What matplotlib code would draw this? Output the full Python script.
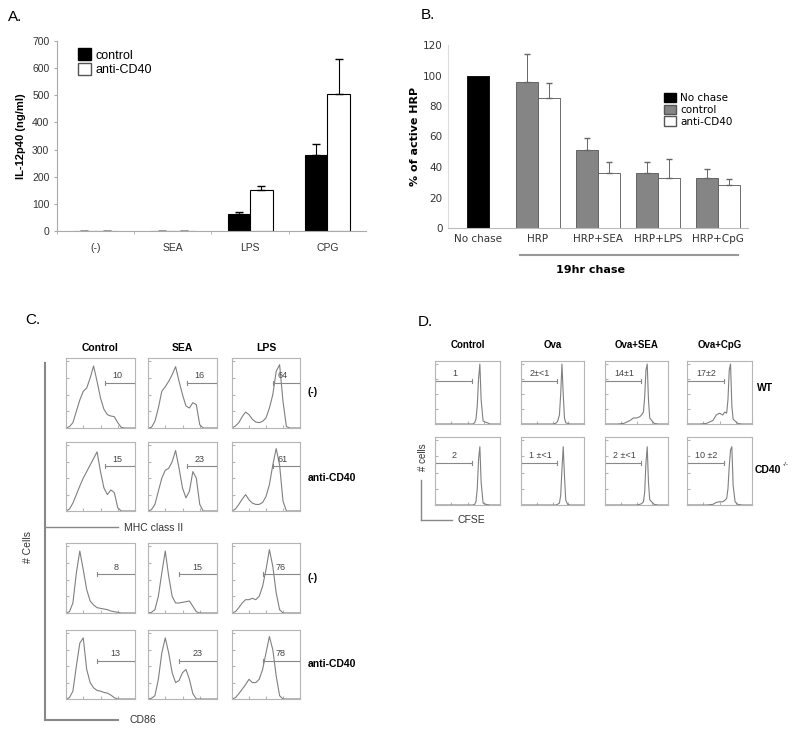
import numpy as np
import matplotlib
matplotlib.use('Agg')
import matplotlib.pyplot as plt
from matplotlib.lines import Line2D
from matplotlib.patches import Patch

plt.rcParams['font.family'] = ['Liberation Sans', 'DejaVu Sans']

W, H = 800, 734

## Panel A data : IL-12p40 ##
a_cats = ['(-)', 'SEA', 'LPS', 'CPG']
a_control = [1, 1, 62, 280]
a_control_err = [0, 0, 8, 42]
a_cd40 = [1, 1, 150, 505]
a_cd40_err = [0, 0, 17, 127]

## Panel B data : % active HRP ##
b_cats = ['No chase', 'HRP', 'HRP+SEA', 'HRP+LPS', 'HRP+CpG']
b_nochase = 100
b_control = [96, 51, 36, 33]
b_control_err = [18, 8, 7, 6]
b_cd40 = [85, 36, 33, 28]
b_cd40_err = [10, 7, 12, 4]

## Panel C data : histograms read at 21 points (0..1) ##
c_cols = ['Control', 'SEA', 'LPS']
c_rows = ['(-)', 'anti-CD40', '(-)', 'anti-CD40']
c_gates = [['10', '16', '64'], ['15', '23', '61'], ['8', '15', '76'], ['13', '23', '78']]
c_hist = [
    [[0, 0.02, 0.08, 0.25, 0.42, 0.55, 0.6, 0.75, 0.93, 0.7, 0.45, 0.28, 0.2, 0.18, 0.17, 0.08, 0.01, 0, 0, 0, 0],
     [0, 0.01, 0.1, 0.3, 0.55, 0.62, 0.7, 0.8, 0.92, 0.7, 0.5, 0.33, 0.3, 0.38, 0.35, 0.05, 0, 0, 0, 0, 0],
     [0, 0.03, 0.08, 0.17, 0.24, 0.2, 0.13, 0.09, 0.08, 0.1, 0.15, 0.3, 0.5, 0.85, 0.95, 0.4, 0.02, 0, 0, 0, 0]],
    [[0, 0.03, 0.12, 0.25, 0.38, 0.5, 0.6, 0.7, 0.8, 0.9, 0.6, 0.35, 0.25, 0.32, 0.28, 0.05, 0, 0, 0, 0, 0],
     [0, 0.02, 0.1, 0.3, 0.5, 0.62, 0.65, 0.75, 0.92, 0.65, 0.35, 0.2, 0.3, 0.6, 0.5, 0.1, 0, 0, 0, 0, 0],
     [0, 0.03, 0.1, 0.18, 0.25, 0.17, 0.12, 0.1, 0.1, 0.13, 0.22, 0.4, 0.7, 0.95, 0.7, 0.15, 0, 0, 0, 0, 0]],
    [[0, 0.02, 0.15, 0.6, 0.93, 0.65, 0.35, 0.18, 0.12, 0.08, 0.07, 0.06, 0.05, 0.03, 0.02, 0.01, 0, 0, 0, 0, 0],
     [0, 0.01, 0.05, 0.25, 0.6, 0.93, 0.55, 0.25, 0.15, 0.15, 0.16, 0.17, 0.18, 0.1, 0.02, 0, 0, 0, 0, 0, 0],
     [0, 0.02, 0.08, 0.15, 0.2, 0.2, 0.22, 0.2, 0.25, 0.4, 0.65, 0.95, 0.7, 0.3, 0.05, 0, 0, 0, 0, 0, 0]],
    [[0, 0.02, 0.12, 0.5, 0.85, 0.93, 0.45, 0.25, 0.17, 0.13, 0.12, 0.1, 0.09, 0.06, 0.02, 0, 0, 0, 0, 0, 0],
     [0, 0.01, 0.05, 0.3, 0.7, 0.93, 0.7, 0.4, 0.25, 0.28, 0.4, 0.45, 0.3, 0.08, 0, 0, 0, 0, 0, 0, 0],
     [0, 0.02, 0.08, 0.15, 0.22, 0.3, 0.25, 0.25, 0.3, 0.45, 0.7, 0.95, 0.75, 0.35, 0.05, 0, 0, 0, 0, 0, 0]],
]
c_x = np.linspace(0, 1, 21)

## Panel D data : CFSE histograms ##
d_cols = ['Control', 'Ova', 'Ova+SEA', 'Ova+CpG']
d_rows = ['WT', 'CD40']
d_gates = [['1', '2\u00b1<1', '14\u00b11', '17\u00b12'], ['2', '1 \u00b1<1', '2 \u00b1<1', '10 \u00b12']]
d_x = [0, 0.2, 0.3, 0.4, 0.45, 0.5, 0.55, 0.58, 0.61, 0.63, 0.65, 0.67, 0.69, 0.71, 0.74, 0.78, 0.85, 1.0]
d_hist = [
    [[0, 0, 0, 0, 0, 0, 0, 0, 0.02, 0.08, 0.3, 0.75, 1.0, 0.4, 0.05, 0.03, 0, 0],
     [0, 0, 0, 0, 0, 0, 0.01, 0.04, 0.15, 0.5, 1.0, 0.5, 0.1, 0.02, 0.01, 0, 0, 0],
     [0, 0, 0.01, 0.06, 0.1, 0.1, 0.12, 0.15, 0.2, 0.45, 0.9, 1.0, 0.4, 0.1, 0.06, 0.01, 0, 0],
     [0, 0, 0.01, 0.06, 0.15, 0.18, 0.15, 0.2, 0.18, 0.4, 0.9, 1.0, 0.3, 0.08, 0.05, 0.01, 0, 0]],
    [[0, 0, 0, 0, 0, 0, 0, 0, 0.01, 0.05, 0.25, 0.7, 0.9, 0.35, 0.03, 0.01, 0, 0],
     [0, 0, 0, 0, 0, 0, 0, 0.01, 0.03, 0.15, 0.55, 0.9, 0.45, 0.08, 0.01, 0, 0, 0],
     [0, 0, 0, 0, 0, 0, 0.01, 0.02, 0.05, 0.2, 0.65, 0.9, 0.35, 0.08, 0.05, 0.01, 0, 0],
     [0, 0, 0, 0.01, 0.04, 0.05, 0.05, 0.07, 0.1, 0.25, 0.6, 0.85, 0.9, 0.3, 0.05, 0.01, 0, 0]],
]

fig = plt.figure(figsize=(W / 100, H / 100), dpi=100)


def ax_px(x0, y0, x1, y1):
    return fig.add_axes([x0 / W, 1 - y1 / H, (x1 - x0) / W, (y1 - y0) / H])


def txt(x, y, s, **kw):
    return fig.text(x / W, 1 - y / H, s, **kw)


def line_px(xs, ys, **kw):
    fig.add_artist(Line2D([v / W for v in xs], [1 - v / H for v in ys], **kw))


def small_box(ax):
    ax.set_xlim(0, 1)
    ax.set_ylim(0, 1.05)
    for s in ax.spines.values():
        s.set_color('#b5b5b5')
        s.set_linewidth(0.8)
    ax.set_xticks(np.linspace(0, 1, 5))
    ax.set_yticks(np.linspace(0, 1, 5))
    ax.tick_params(length=2, direction='in', color='#b5b5b5', labelbottom=False, labelleft=False)


def gate(ax, x0, x1, y, label, tx, fs):
    ax.plot([x0, x1], [y, y], color='#888888', lw=0.8)
    ax.plot([x0, x0], [y - 0.03, y + 0.03], color='#888888', lw=0.8)
    ax.plot([x1, x1], [y - 0.03, y + 0.03], color='#888888', lw=0.8)
    ax.text(tx, y + 0.04, label, fontsize=fs, ha='center', va='bottom', color='#444444')


## Panel A ##
axA = ax_px(57, 41, 366, 231)
xa = np.arange(len(a_cats))
bw = 0.29
axA.bar(xa - bw / 2, a_control, bw, color='black', edgecolor='black', lw=0.8)
axA.bar(xa + bw / 2, a_cd40, bw, color='white', edgecolor='black', lw=0.8)
axA.errorbar(xa - bw / 2, a_control, yerr=[np.zeros(4), a_control_err], fmt='none', ecolor='black', elinewidth=0.8, capsize=3)
axA.errorbar(xa + bw / 2, a_cd40, yerr=[np.zeros(4), a_cd40_err], fmt='none', ecolor='black', elinewidth=0.8, capsize=3)
axA.set_xlim(-0.5, 3.5)
axA.set_ylim(0, 700)
axA.set_yticks(range(0, 701, 100))
axA.set_xticks(xa)
axA.set_xticklabels(a_cats)
axA.set_xticks([-0.5, 0.5, 1.5, 2.5], minor=True)
axA.tick_params(axis='x', which='major', length=0, labelsize=7.5, pad=9, colors='#333333')
axA.tick_params(axis='x', which='minor', length=2, color='#aaaaaa')
axA.tick_params(axis='y', length=2, labelsize=7.5, color='#aaaaaa', labelcolor='#333333')
for s in ['top', 'right']:
    axA.spines[s].set_visible(False)
for s in ['left', 'bottom']:
    axA.spines[s].set_color('#aaaaaa')
axA.set_ylabel('IL-12p40 (ng/ml)', fontsize=8, fontweight='bold', labelpad=4)
axA.legend([Patch(facecolor='black', edgecolor='black'), Patch(facecolor='white', edgecolor='#555555')],
           ['control', 'anti-CD40'], loc='upper left', bbox_to_anchor=(0.03, 1.02), frameon=False,
           fontsize=9, handlelength=1.1, handleheight=1.1, handletextpad=0.3, labelspacing=0.1)
txt(8, 17, 'A.', fontsize=11, va='center')

## Panel B ##
axB = ax_px(448, 45, 748, 228)
xb = np.arange(1, 5)
bw = 0.37
axB.bar([0], [b_nochase], bw, color='black', edgecolor='black', lw=0.6)
axB.bar(xb - bw / 2, b_control, bw, color='#858585', edgecolor='#555555', lw=0.6)
axB.bar(xb + bw / 2, b_cd40, bw, color='white', edgecolor='#555555', lw=0.6)
axB.errorbar(xb - bw / 2, b_control, yerr=[np.zeros(4), b_control_err], fmt='none', ecolor='#666666', elinewidth=0.7, capsize=2.5)
axB.errorbar(xb + bw / 2, b_cd40, yerr=[np.zeros(4), b_cd40_err], fmt='none', ecolor='#666666', elinewidth=0.7, capsize=2.5)
axB.set_xlim(-0.5, 4.5)
axB.set_ylim(0, 120)
axB.set_yticks(range(0, 121, 20))
axB.set_xticks(range(5))
axB.set_xticklabels(b_cats, fontfamily='DejaVu Sans')
for lab in axB.get_yticklabels():
    lab.set_fontfamily('DejaVu Sans')
axB.tick_params(length=0, labelsize=7.5, colors='#333333', pad=4)
for s in ['top', 'right']:
    axB.spines[s].set_visible(False)
axB.spines['left'].set_color('#dddddd')
axB.spines['bottom'].set_color('#bbbbbb')
axB.set_ylabel('% of active HRP', fontsize=8, fontweight='bold', fontfamily='DejaVu Sans', labelpad=2)
axB.legend([Patch(facecolor='black', edgecolor='black'), Patch(facecolor='#858585', edgecolor='#555555'),
            Patch(facecolor='white', edgecolor='#555555')], ['No chase', 'control', 'anti-CD40'],
           loc='upper left', bbox_to_anchor=(0.69, 0.79), frameon=False, prop={'family': 'DejaVu Sans', 'size': 7.5},
           handlelength=1.1, handleheight=1.0, handletextpad=0.4, labelspacing=0.15)
line_px([520, 738], [255, 255], color='#999999', lw=1.5)
txt(590, 270, '19hr chase', fontsize=8, fontweight='bold', fontfamily='DejaVu Sans', ha='center', va='center')
txt(421, 15, 'B.', fontsize=11, va='center')

## Panel C ##
c_xpos = [(66, 135), (148, 217), (232, 300)]
c_ypos = [(358, 428), (442, 511), (543, 613), (630, 699)]
for r in range(4):
    for c in range(3):
        ax = ax_px(c_xpos[c][0], c_ypos[r][0], c_xpos[c][1], c_ypos[r][1])
        small_box(ax)
        ax.plot(c_x, c_hist[r][c], color='#808080', lw=0.8)
        if r < 2:
            g0 = 0.6 if c == 2 else 0.57
            gate(ax, g0, 1.0, 0.68, c_gates[r][c], 0.75, 6.5)
        else:
            gate(ax, 0.45, 1.0, 0.58, c_gates[r][c], 0.72, 6.5)
for c in range(3):
    txt((c_xpos[c][0] + c_xpos[c][1]) / 2, 348, c_cols[c], fontsize=7.5, fontweight='bold', ha='center', va='center')
for r in range(4):
    txt(308, [392, 478, 578, 664][r], c_rows[r], fontsize=7.5, fontweight='bold', va='center')
line_px([45, 45], [363, 720], color='#888888', lw=1.5)
line_px([45, 118], [527, 527], color='#888888', lw=1.0)
line_px([45, 118], [720, 720], color='#888888', lw=1.5)
txt(124, 528, 'MHC class II', fontsize=7.5, va='center', color='#333333')
txt(130, 720, 'CD86', fontsize=7.5, va='center', color='#333333')
txt(28, 547, '# Cells', fontsize=7.5, rotation=90, ha='center', va='center', color='#333333')
txt(25, 320, 'C.', fontsize=11, va='center')

## Panel D ##
d_xpos = [(435, 500), (521, 584), (605, 668), (687, 752)]
d_ypos = [(361, 424), (437, 505)]
for r in range(2):
    for c in range(4):
        ax = ax_px(d_xpos[c][0], d_ypos[r][0], d_xpos[c][1], d_ypos[r][1])
        small_box(ax)
        ax.plot(d_x, d_hist[r][c], color='#808080', lw=0.8)
        gate(ax, 0.0, 0.57, [0.72, 0.65][r], d_gates[r][c], 0.3, 6.5)
for c in range(4):
    txt((d_xpos[c][0] + d_xpos[c][1]) / 2, 345, d_cols[c], fontsize=7, fontweight='bold', ha='center', va='center')
txt(757, 388, d_rows[0], fontsize=7.5, fontweight='bold', va='center')
txt(755, 470, d_rows[1], fontsize=7.5, fontweight='bold', va='center')
txt(783, 465, '-/-', fontsize=4.5, va='center')
line_px([421, 421], [480, 520], color='#888888', lw=1.0)
line_px([421, 452], [520, 520], color='#888888', lw=1.0)
txt(457, 520, 'CFSE', fontsize=7.5, va='center', color='#333333')
txt(423, 457, '# cells', fontsize=7, rotation=90, ha='center', va='center', color='#333333')
txt(418, 322, 'D.', fontsize=11, va='center')

fig.savefig('out.png', dpi=100)
